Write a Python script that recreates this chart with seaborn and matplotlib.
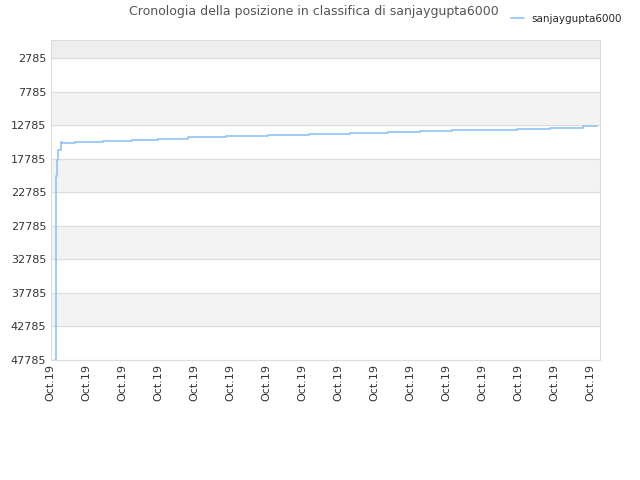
import matplotlib
matplotlib.use("Agg")
import matplotlib.pyplot as plt
import seaborn as sns
import pandas as pd

# position along x measured in tick units (one "Oct.19" tick per unit)
pos_x = [0.11, 0.14, 0.15, 0.19, 0.22, 0.28, 0.33, 0.69, 1.47, 2.25, 2.99, 3.81, 4.89,
         6.03, 7.19, 8.33, 9.39, 10.28, 11.17, 12.06, 12.97, 13.89, 14.81, 15.19]
rank = [47785, 33980, 20250, 17860, 16370, 15320, 15400, 15250, 15100, 14900, 14750,
        14550, 14400, 14250, 14100, 13950, 13800, 13650, 13500, 13400, 13250, 13100,
        12900, 12900]
tick_labels = ["Oct.19"] * 16
y_ticks = [2785, 7785, 12785, 17785, 22785, 27785, 32785, 37785, 42785, 47785]

df = pd.DataFrame({"x": pos_x, "rank": rank})

sns.set_style("white")
fig, ax = plt.subplots(figsize=(6.4, 4.8), dpi=100)
fig.subplots_adjust(left=0.079, right=0.938, top=0.917, bottom=0.25)

ax.axhspan(0, 2785, color="#eeeeee", zorder=0)
for lo in [7785, 17785, 27785, 37785]:
    ax.axhspan(lo, lo + 5000, color="#f3f3f3", zorder=0)
for t in y_ticks:
    ax.axhline(t, color="#dddddd", lw=0.8, zorder=1)

sns.lineplot(data=df, x="x", y="rank", ax=ax, color="#90c4f5", lw=1.2,
             drawstyle="steps-post", label="sanjaygupta6000", zorder=3)

ax.set_xlim(0, 15.28)
ax.set_ylim(47785, 0)
ax.set_yticks(y_ticks)
ax.set_yticklabels([str(t) for t in y_ticks], fontsize=8, color="#333333")
ax.set_xticks(range(16))
ax.set_xticklabels(tick_labels, rotation=90, fontsize=8, color="#333333")
ax.set_xlabel("")
ax.set_ylabel("")
ax.tick_params(length=0, pad=3)
for s in ax.spines.values():
    s.set_color("#dddddd")

fig.text(0.49, 0.975, "Cronologia della posizione in classifica di sanjaygupta6000",
         ha="center", va="center", fontsize=9, color="#555555")
ax.legend(loc="center left", bbox_to_anchor=(0.83, 1.066), frameon=False,
          fontsize=7.5, handlelength=1.2, borderaxespad=0)

fig.savefig("out.png", dpi=100)
